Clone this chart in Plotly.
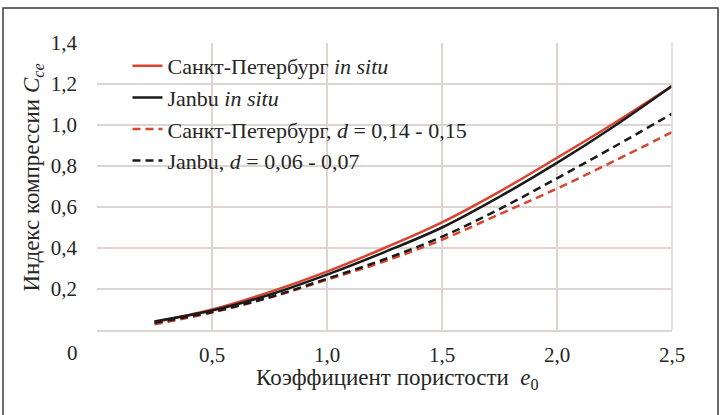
import plotly.graph_objects as go

# Void ratio e0
e0 = [0.25, 0.5, 0.75, 1.0, 1.25, 1.5, 1.75, 2.0, 2.25, 2.5]

# Compression index Cce for each relation
spb_insitu = [0.038, 0.100, 0.185, 0.285, 0.400, 0.525, 0.675, 0.840, 1.010, 1.190]
janbu_insitu = [0.042, 0.095, 0.172, 0.270, 0.380, 0.500, 0.650, 0.815, 0.995, 1.190]
spb_d = [0.028, 0.085, 0.158, 0.245, 0.335, 0.440, 0.565, 0.690, 0.825, 0.965]
janbu_d = [0.035, 0.088, 0.160, 0.250, 0.345, 0.455, 0.590, 0.740, 0.895, 1.055]

names = [
    "Санкт-Петербург <i>in situ</i>",
    "Janbu <i>in situ</i>",
    "Санкт-Петербург, <i>d</i> = 0,14 - 0,15",
    "Janbu, <i>d</i> = 0,06 - 0,07",
]

x_ticks = [0.5, 1.0, 1.5, 2.0, 2.5]
y_ticks = [0.2, 0.4, 0.6, 0.8, 1.0, 1.2, 1.4]

RED = "#d9432f"
BLACK = "#1a1a1a"
TEXT = "#262626"
GRID = "#ddd5d2"
FONT = "Liberation Serif"

series = [
    (spb_insitu, RED, "solid"),
    (janbu_insitu, BLACK, "solid"),
    (spb_d, RED, "8px,5px"),
    (janbu_d, BLACK, "8px,5px"),
]

fig = go.Figure()
for i, (vals, color, dash) in enumerate(series):
    fig.add_trace(go.Scatter(
        x=e0, y=vals, mode="lines", name=names[i], legendgroup=str(i),
        line=dict(color=color, width=2.5, dash=dash, shape="spline", smoothing=1.0),
    ))

fig.update_layout(
    width=720, height=415,
    margin=dict(l=97, r=48, t=43, b=85),
    paper_bgcolor="white", plot_bgcolor="white",
    separators=", ",
    font=dict(family=FONT, size=21, color=TEXT),
    showlegend=True,
    legend=dict(
        x=0.053, y=0.993, xanchor="left", yanchor="top",
        bgcolor="rgba(255,255,255,0)", tracegroupgap=0,
        font=dict(family=FONT, size=22, color=TEXT),
    ),
    xaxis=dict(
        range=[0, 2.5], tickvals=x_ticks, tickformat=".1f",
        showgrid=True, gridcolor=GRID, gridwidth=1.5,
        showline=True, linecolor=GRID, linewidth=1.5, mirror=False,
        zeroline=False, ticks="", ticklabelstandoff=5,
        tickfont=dict(family=FONT, size=21, color=TEXT),
    ),
    yaxis=dict(
        range=[0, 1.4], tickvals=y_ticks, tickformat=".1f",
        showgrid=True, gridcolor=GRID, gridwidth=1.5,
        showline=False, zeroline=False, ticks="", ticklabelstandoff=19,
        tickfont=dict(family=FONT, size=21, color=TEXT),
    ),
    annotations=[
        dict(text="0", xref="paper", yref="paper", x=-0.043, y=-0.08,
             xanchor="center", yanchor="middle",
             showarrow=False, font=dict(family=FONT, size=21, color=TEXT)),
        dict(text="Коэффициент пористости  <i>e</i><sub>0</sub>", xref="paper", yref="paper",
             x=0.522, y=-0.172, xanchor="center", yanchor="middle", showarrow=False,
             font=dict(family=FONT, size=23, color=TEXT)),
        dict(text="Индекс компрессии <i>C</i><sub><i>ce</i></sub>", xref="paper", yref="paper",
             x=-0.112, y=0.53, xanchor="center", yanchor="middle", textangle=-90,
             showarrow=False, font=dict(family=FONT, size=23, color=TEXT)),
    ],
    shapes=[
        # right border of plot area
        dict(type="line", xref="paper", yref="paper", x0=1, x1=1, y0=0, y1=1,
             line=dict(color=GRID, width=1.5)),
        # outer frame
        dict(type="rect", xref="paper", yref="paper",
             x0=-0.1635, x1=1.08, y0=-0.32, y1=1.122,
             line=dict(color="#3a3a3a", width=1.5)),
    ],
)

fig.write_html("out.html")
